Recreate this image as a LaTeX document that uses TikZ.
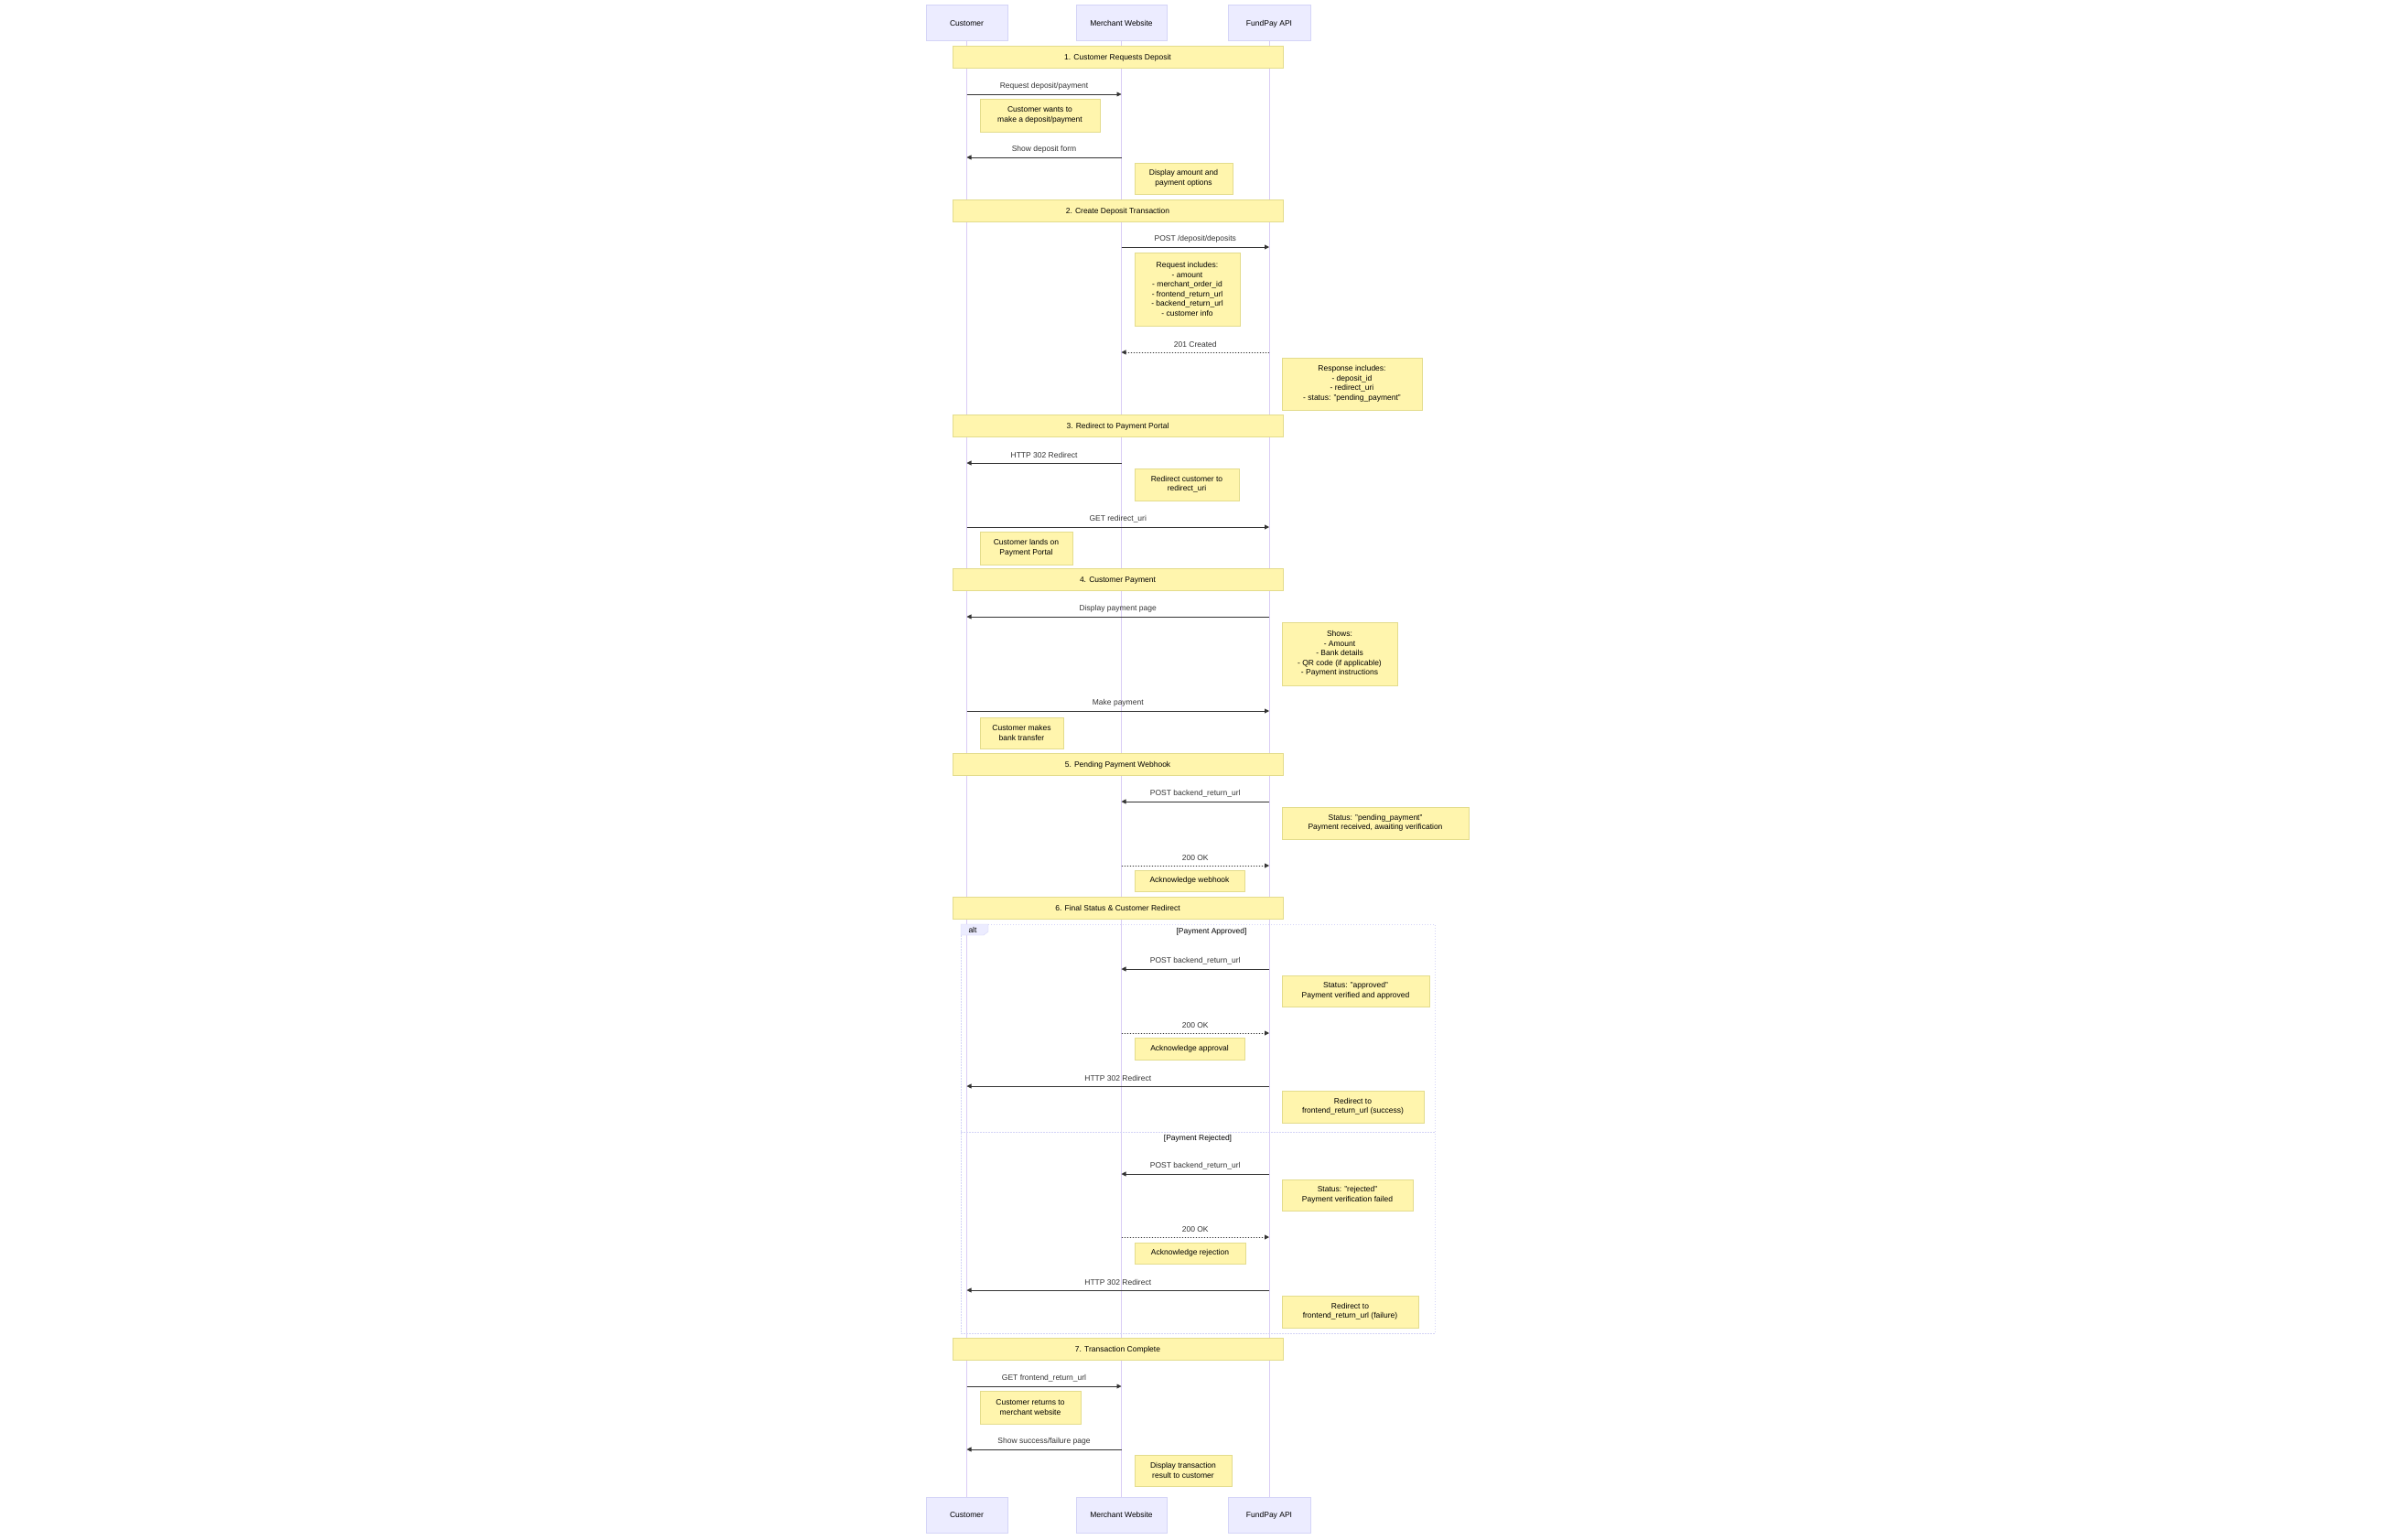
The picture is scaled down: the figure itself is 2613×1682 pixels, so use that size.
\documentclass[tikz,border=0pt]{standalone}
\usepackage{fontspec}
\setmainfont{Liberation Sans}
\usetikzlibrary{arrows.meta, positioning, calc}

\definecolor{actorfill}{HTML}{ECECFF}
\definecolor{actorline}{HTML}{D4D4F7}
\definecolor{lifeline}{HTML}{D9CCF5}
\definecolor{notefill}{HTML}{FFF5AD}
\definecolor{noteline}{HTML}{E3DC8C}
\definecolor{msgline}{HTML}{333333}

\begin{document}
\begin{tikzpicture}[x=1pt, y=-1pt, font=\fontsize{8.5}{10.5}\selectfont]

% Estilos
\tikzset{
    actor/.style={rectangle, draw=actorline, fill=actorfill, minimum height=39pt, inner sep=0pt, text height=1.6ex, text depth=0.4ex},
    note/.style={rectangle, draw=noteline, fill=notefill, align=center, inner sep=0pt},
    section/.style={note, minimum width=361pt, minimum height=24pt, text height=1.6ex, text depth=0.4ex},
    msg/.style={-{Triangle[length=5pt, width=5pt]}, draw=msgline, fill=msgline, line width=0.8pt},
    reply/.style={msg, dash pattern=on 1.5pt off 1.5pt},
    lbl/.style={above=1.5pt, text=msgline, fill=none}
}

\useasboundingbox (0,0) rectangle (2613,1682);

% Akteure
\node (cust) [actor, minimum width=89pt] at (1056.5,25) {Customer};
\node (merch) [actor, minimum width=99pt] at (1225.5,25) {Merchant Website};
\node (fund) [actor, minimum width=90pt] at (1387,25) {FundPay API};
\node (custB) [actor, minimum width=89pt] at (1056.5,1655.5) {Customer};
\node (merchB) [actor, minimum width=99pt] at (1225.5,1655.5) {Merchant Website};
\node (fundB) [actor, minimum width=90pt] at (1387,1655.5) {FundPay API};

% Lebenslinien
\draw [lifeline, line width=0.8pt] (cust) -- (custB);
\draw [lifeline, line width=0.8pt] (merch) -- (merchB);
\draw [lifeline, line width=0.8pt] (fund) -- (fundB);

% alt-Block
\draw [actorline, dash pattern=on 1.5pt off 1.5pt, line width=0.6pt] (1050,1010) rectangle (1568,1457);
\draw [actorline, dash pattern=on 1.5pt off 1.5pt, line width=0.6pt] (1050,1237) -- (1568,1237);
\filldraw [draw=actorline, fill=actorfill] (1050,1010) -- (1080,1010) -- (1080,1018) -- (1075,1022) -- (1050,1022) -- cycle;
\node (alt) at (1063,1016) {alt};
\node (approved) at (1324,1018) {[Payment Approved]};
\node (rejected) at (1309,1244) {[Payment Rejected]};

% Abschnitte
\node (sec1) [section] at (1221.5,62) {1. Customer Requests Deposit};
\node (sec2) [section] at (1221.5,230) {2. Create Deposit Transaction};
\node (sec3) [section] at (1221.5,465.5) {3. Redirect to Payment Portal};
\node (sec4) [section] at (1221.5,633.5) {4. Customer Payment};
\node (sec5) [section] at (1221.5,835.5) {5. Pending Payment Webhook};
\node (sec6) [section] at (1221.5,992.5) {6. Final Status \& Customer Redirect};
\node (sec7) [section] at (1221.5,1474) {7. Transaction Complete};

% Notizen
\node (n1) [note, minimum width=131pt, minimum height=36pt] at (1136.5,126) {Customer wants to\\make a deposit/payment};
\node (n2) [note, minimum width=107pt, minimum height=34pt] at (1293.5,195) {Display amount and\\payment options};
\node (n3) [note, minimum width=115pt, minimum height=80pt] at (1297.5,316) {Request includes:\\- amount\\- merchant\_order\_id\\- frontend\_return\_url\\- backend\_return\_url\\- customer info};
\node (n4) [note, minimum width=153pt, minimum height=57pt] at (1477.5,419.5) {Response includes:\\- deposit\_id\\- redirect\_uri\\- status: "pending\_payment"};
\node (n5) [note, minimum width=114pt, minimum height=35pt] at (1297,529.5) {Redirect customer to\\redirect\_uri};
\node (n6) [note, minimum width=101pt, minimum height=36pt] at (1121.5,599) {Customer lands on\\Payment Portal};
\node (n7) [note, minimum width=126pt, minimum height=69pt] at (1464,714.5) {Shows:\\- Amount\\- Bank details\\- QR code (if applicable)\\- Payment instructions};
\node (n8) [note, minimum width=91pt, minimum height=34pt] at (1116.5,801) {Customer makes\\bank transfer};
\node (n9) [note, minimum width=204pt, minimum height=35pt] at (1503,899.5) {Status: "pending\_payment"\\Payment received, awaiting verification};
\node (n10) [note, minimum width=120pt, minimum height=23pt] at (1300,962.5) {Acknowledge webhook};
\node (n11) [note, minimum width=161pt, minimum height=34pt] at (1481.5,1083) {Status: "approved"\\Payment verified and approved};
\node (n12) [note, minimum width=120pt, minimum height=24pt] at (1300,1146) {Acknowledge approval};
\node (n13) [note, minimum width=155pt, minimum height=35pt] at (1478.5,1209.5) {Redirect to\\frontend\_return\_url (success)};
\node (n14) [note, minimum width=143pt, minimum height=34pt] at (1472.5,1306) {Status: "rejected"\\Payment verification failed};
\node (n15) [note, minimum width=121pt, minimum height=23pt] at (1300.5,1369.5) {Acknowledge rejection};
\node (n16) [note, minimum width=149pt, minimum height=35pt] at (1475.5,1433.5) {Redirect to\\frontend\_return\_url (failure)};
\node (n17) [note, minimum width=110pt, minimum height=36pt] at (1126,1538) {Customer returns to\\merchant website};
\node (n18) [note, minimum width=106pt, minimum height=34pt] at (1293,1607) {Display transaction\\result to customer};

% Nachrichten
\draw [msg] (cust |- 0,103) -- node[lbl] {Request deposit/payment} (merch |- 0,103);
\draw [msg] (merch |- 0,172) -- node[lbl] {Show deposit form} (cust |- 0,172);
\draw [msg] (merch |- 0,270) -- node[lbl] {POST /deposit/deposits} (fund |- 0,270);
\draw [reply] (fund |- 0,385) -- node[lbl] {201 Created} (merch |- 0,385);
\draw [msg] (merch |- 0,506) -- node[lbl] {HTTP 302 Redirect} (cust |- 0,506);
\draw [msg] (cust |- 0,576) -- node[lbl] {GET redirect\_uri} (fund |- 0,576);
\draw [msg] (fund |- 0,674) -- node[lbl] {Display payment page} (cust |- 0,674);
\draw [msg] (cust |- 0,777) -- node[lbl] {Make payment} (fund |- 0,777);
\draw [msg] (fund |- 0,876) -- node[lbl] {POST backend\_return\_url} (merch |- 0,876);
\draw [reply] (merch |- 0,946) -- node[lbl] {200 OK} (fund |- 0,946);
\draw [msg] (fund |- 0,1059) -- node[lbl] {POST backend\_return\_url} (merch |- 0,1059);
\draw [reply] (merch |- 0,1129) -- node[lbl] {200 OK} (fund |- 0,1129);
\draw [msg] (fund |- 0,1187) -- node[lbl] {HTTP 302 Redirect} (cust |- 0,1187);
\draw [msg] (fund |- 0,1283) -- node[lbl] {POST backend\_return\_url} (merch |- 0,1283);
\draw [reply] (merch |- 0,1352) -- node[lbl] {200 OK} (fund |- 0,1352);
\draw [msg] (fund |- 0,1410) -- node[lbl] {HTTP 302 Redirect} (cust |- 0,1410);
\draw [msg] (cust |- 0,1515) -- node[lbl] {GET frontend\_return\_url} (merch |- 0,1515);
\draw [msg] (merch |- 0,1584) -- node[lbl] {Show success/failure page} (cust |- 0,1584);

\end{tikzpicture}
\end{document}
